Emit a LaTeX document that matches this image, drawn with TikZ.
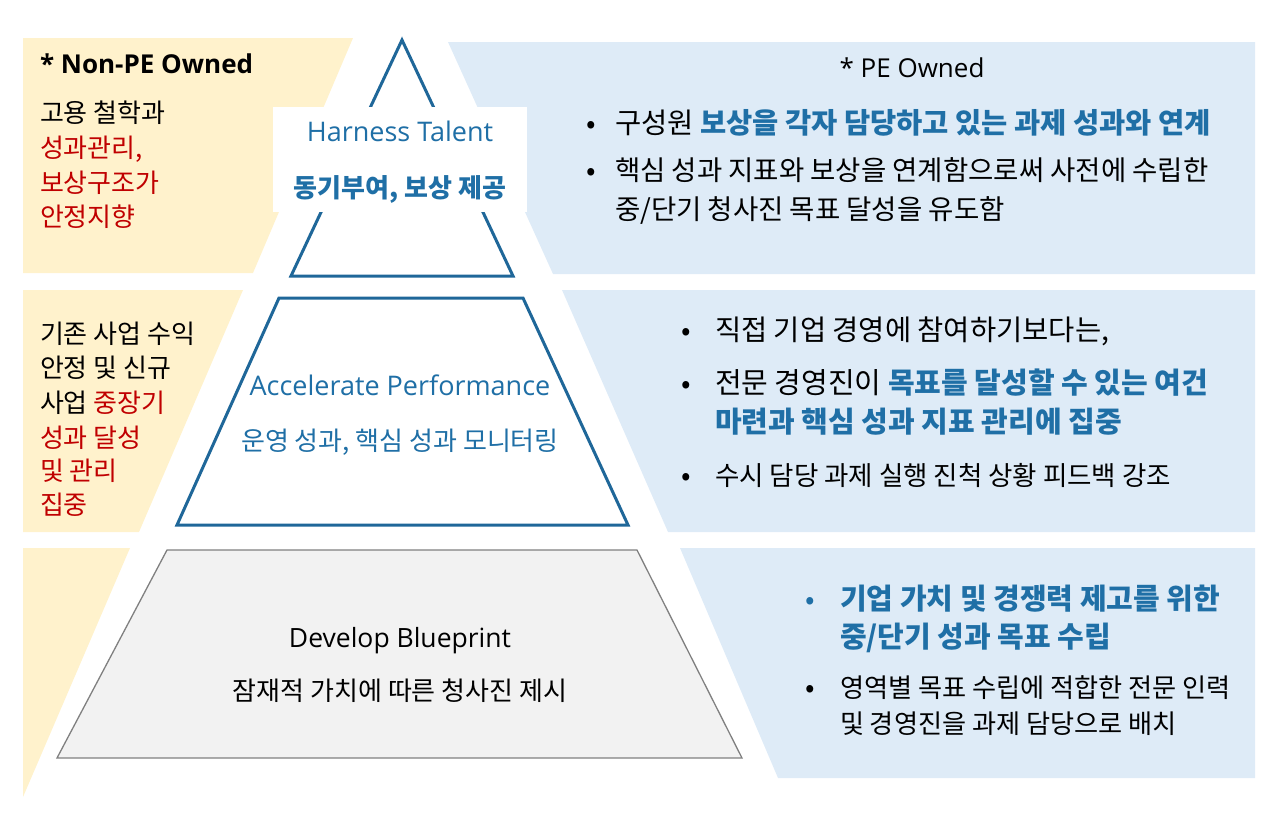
\documentclass[tikz,border=0pt]{standalone}
\usepackage{fontspec}
\setmainfont{Noto Sans CJK KR}
\newfontfamily\krf{Noto Sans CJK KR}
\newfontfamily\latf{Open Sans}
\definecolor{ylw}{RGB}{255,242,204}
\definecolor{blu}{RGB}{222,235,247}
\definecolor{pyblue}{RGB}{31,103,153}
\definecolor{tblue}{RGB}{31,111,166}
\definecolor{tred}{RGB}{192,0,0}
\definecolor{gfill}{RGB}{242,242,242}
\definecolor{gline}{RGB}{128,128,128}
\newcommand\setfs[1]{\fontsize{#1}{#1}\selectfont}
\begin{document}
\begin{tikzpicture}[x=1pt,y=-1pt,
  lt/.style={inner sep=0pt,outer sep=0pt,anchor=base west},
  ct/.style={inner sep=0pt,outer sep=0pt,anchor=base},
  kl/.style={font=\krf\setfs{26}},
  kr/.style={font=\krf\setfs{#1}},
  kb/.style={font=\krf\bfseries\setfs{#1}},
  pyline/.style={draw=pyblue,line width=3pt,line join=miter},
]
\useasboundingbox (0,0) rectangle (1280,822);
% side panels
\fill[ylw] (23,38) -- (353,38) -- (253,273) -- (23,273) -- cycle;
\fill[ylw] (23,290) -- (243,290) -- (139,532) -- (23,532) -- cycle;
\fill[ylw] (23,548) -- (130,548) -- (23,797) -- cycle;
\fill[blu] (448,42) -- (1255,42) -- (1255,274) -- (553,274) -- cycle;
\fill[blu] (562,290) -- (1255,290) -- (1255,532) -- (668,532) -- cycle;
\fill[blu] (680,548) -- (1255,548) -- (1255,778) -- (778,778) -- cycle;
% pyramid
\draw[pyline] (402,40) -- (513,276) -- (291,276) -- cycle;
\fill[white] (273,107) rectangle (527,212);
\draw[pyline,fill=white] (279,298) -- (523,298) -- (628,525) -- (177,525) -- cycle;
\draw[draw=gline,line width=1.3pt,fill=gfill] (167,550) -- (637,550) -- (742,758) -- (57,758) -- cycle;
% left texts
\node[lt,font=\latf\bfseries\setfs{26}] (nonpe) at (40,73) {* Non-PE Owned};
\node[lt,kl] (l1) at (40,122) {고용 철학과};
\node[lt,kl,text=tred] (l2) at (40,157) {성과관리,};
\node[lt,kl,text=tred] (l3) at (40,192) {보상구조가};
\node[lt,kl,text=tred] (l4) at (40,226) {안정지향};
\node[lt,kl] (m1) at (40,343) {기존 사업 수익};
\node[lt,kl] (m2) at (40,377) {안정 및 신규};
\node[lt,kl] (m3) at (40,412) {사업 \textcolor{tred}{중장기}};
\node[lt,kl,text=tred] (m4) at (40,447) {성과 달성};
\node[lt,kl,text=tred] (m5) at (40,480) {및 관리};
\node[lt,kl,text=tred] (m6) at (40,514) {집중};
% pyramid texts
\node[ct,font=\latf\setfs{27},text=tblue] (ht) at (400,141) {Harness Talent};
\node[ct,kb=26,text=tblue] (hk) at (400,197) {동기부여, 보상 제공};
\node[ct,font=\latf\setfs{27},text=tblue] (ap) at (400,395) {Accelerate Performance};
\node[ct,kl,text=tblue] (ak) at (400,450) {운영 성과, 핵심 성과 모니터링};
\node[ct,font=\latf\setfs{26.5}] (db) at (400,647) {Develop Blueprint};
\node[ct,kl] (dk) at (400,700) {잠재적 가치에 따른 청사진 제시};
% right top
\node[ct,font=\latf\setfs{26}] (pe) at (912,77) {* PE Owned};
\node[ct,kr=28] (b1) at (591,133) {•};
\node[lt,kr=28.5] (r1) at (615,133) {구성원 \textcolor{tblue}{\bfseries 보상을 각자 담당하고 있는 과제 성과와 연계}};
\node[ct,kr=28] (b2) at (591,180) {•};
\node[lt,kr=27.5] (r2) at (615,180) {핵심 성과 지표와 보상을 연계함으로써 사전에 수립한};
\node[lt,kr=27.5] (r3) at (615,219) {중/단기 청사진 목표 달성을 유도함};
% right middle
\node[ct,kr=28] (b3) at (686,340) {•};
\node[lt,kr=28.5] (s1) at (715,340) {직접 기업 경영에 참여하기보다는,};
\node[ct,kr=28] (b4) at (686,393) {•};
\node[lt,kr=29] (s2) at (715,393) {전문 경영진이 \textcolor{tblue}{\bfseries 목표를 달성할 수 있는 여건}};
\node[lt,kb=29,text=tblue] (s3) at (715,432) {마련과 핵심 성과 지표 관리에 집중};
\node[ct,kr=28] (b5) at (686,485) {•};
\node[lt,kr=26.5] (s4) at (715,485) {수시 담당 과제 실행 진척 상황 피드백 강조};
% right bottom
\node[ct,kr=28,text=tblue] (b6) at (810,609) {•};
\node[lt,kb=29,text=tblue] (u1) at (840,609) {기업 가치 및 경쟁력 제고를 위한};
\node[lt,kb=29,text=tblue] (u2) at (840,647) {중/단기 성과 목표 수립};
\node[ct,kr=28] (b7) at (810,697) {•};
\node[lt,kr=26.2] (u3) at (840,697) {영역별 목표 수립에 적합한 전문 인력};
\node[lt,kr=26.2] (u4) at (840,733) {및 경영진을 과제 담당으로 배치};
\end{tikzpicture}
\end{document}
